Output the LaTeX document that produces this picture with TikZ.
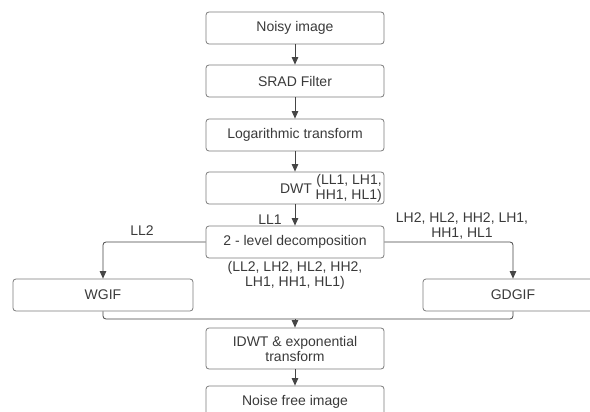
\documentclass[tikz,border=0pt]{standalone}
\usepackage{fontspec}
\setmainfont{Liberation Sans}
\usepackage{tikz}
\usetikzlibrary{arrows.meta}
\definecolor{txtgray}{HTML}{3A3A3A}
\definecolor{boxgray}{HTML}{7A7A7A}
\definecolor{linegray}{HTML}{454545}
\tikzset{
every node/.style={text=txtgray, font=\fontsize{14}{15}\selectfont, inner sep=0pt},
stage/.style={rectangle, rounded corners=3pt, draw=boxgray, line width=0.8pt,
  minimum width=178pt, minimum height=32pt, align=center},
flow/.style={draw=linegray, line width=0.8pt, rounded corners=3pt,
  -{Triangle[width=6.5pt,length=7.5pt]}},
band/.style={align=center}
}

\begin{document}
\begin{tikzpicture}[x=1pt,y=-1pt]
\useasboundingbox (0,0) rectangle (590,412);

\node[stage] (noisy) at (295,28) {Noisy image};
\node[stage] (srad) at (295,81) {SRAD Filter};
\node[stage] (logt) at (295,135) {Logarithmic transform};
\node[stage] (dwt) at (295,188) {};
\node (dwtname) at (296,189) {DWT};
\node[band, anchor=east, align=right] (dwtsub) at (382,188) {(LL1, LH1,\\HH1, HL1)};
\node[stage] (dec) at (295,242) {2 - level decomposition};
\node[stage, minimum width=180pt] (wgif) at (103,295) {WGIF};
\node[stage, minimum width=180pt] (gdgif) at (513,295) {GDGIF};
\node[stage, minimum height=41pt] (idwt) at (295,348.5) {IDWT \& exponential\\transform};
\node[stage] (nfree) at (295,402) {Noise free image};

\node (ll1) at (270,220) {LL1};
\node (ll2) at (142,231) {LL2};
\node[band] (high) at (462,226) {LH2, HL2, HH2, LH1,\\HH1, HL1};
\node[band] (all) at (295,275) {(LL2, LH2, HL2, HH2,\\LH1, HH1, HL1)};

\coordinate (merge) at (295,319);

\draw[flow] (noisy) -- (srad);
\draw[flow] (srad) -- (logt);
\draw[flow] (logt) -- (dwt);
\draw[flow] (dwt) -- (dec);
\draw[flow] (dec.west) -| (wgif.north);
\draw[flow] (dec.east) -| (gdgif.north);
\draw[draw=linegray, line width=0.8pt, rounded corners=3pt] (wgif.south) |- (merge) -| (gdgif.south);
\draw[flow] (merge) -- (idwt);
\draw[flow] (idwt) -- (nfree);

\end{tikzpicture}
\end{document}
